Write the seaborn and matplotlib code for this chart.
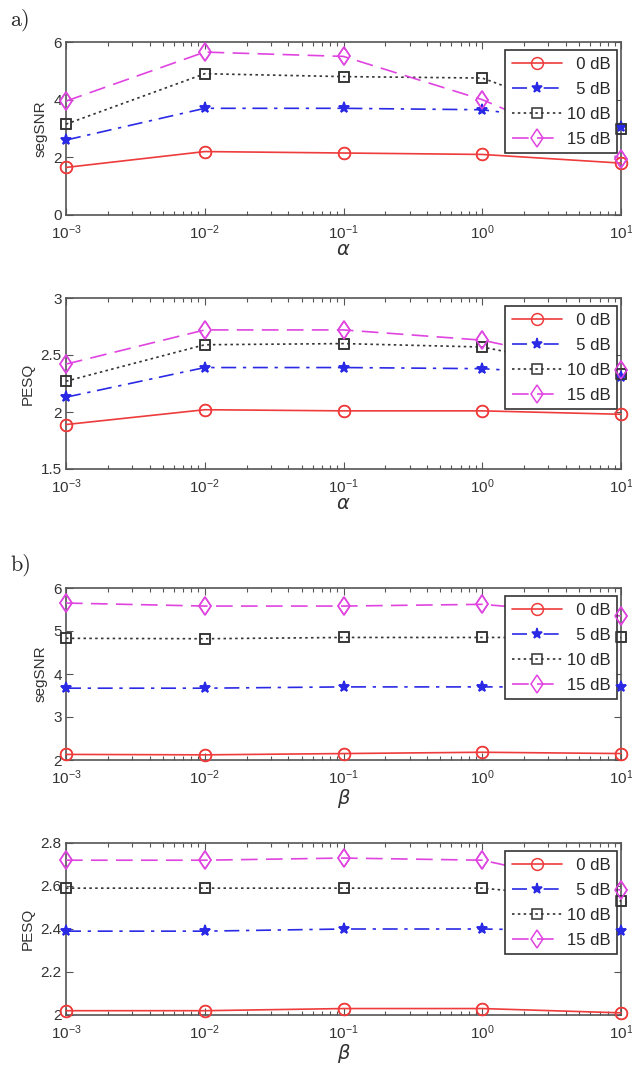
import numpy as np
import pandas as pd
import seaborn as sns
import matplotlib.pyplot as plt
from matplotlib.ticker import LogLocator, NullFormatter

sns.set_style("ticks")
plt.rcParams['font.family'] = ['Liberation Sans', 'DejaVu Sans']

# parameter values (alpha / beta)
params = [1e-3, 1e-2, 1e-1, 1e0, 1e1]
snr_labels = ['  0 dB', '  5 dB', '10 dB', '15 dB']

# a) varying alpha
seg_alpha_0 = [1.65, 2.20, 2.15, 2.10, 1.80]
seg_alpha_5 = [2.60, 3.70, 3.70, 3.65, 3.05]
seg_alpha_10 = [3.15, 4.90, 4.80, 4.75, 3.00]
seg_alpha_15 = [3.95, 5.65, 5.50, 4.00, 1.95]

pesq_alpha_0 = [1.89, 2.02, 2.01, 2.01, 1.98]
pesq_alpha_5 = [2.13, 2.39, 2.39, 2.38, 2.31]
pesq_alpha_10 = [2.27, 2.59, 2.60, 2.57, 2.33]
pesq_alpha_15 = [2.42, 2.72, 2.72, 2.63, 2.37]

# b) varying beta
seg_beta_0 = [2.13, 2.12, 2.15, 2.18, 2.15]
seg_beta_5 = [3.67, 3.67, 3.70, 3.70, 3.70]
seg_beta_10 = [4.83, 4.82, 4.85, 4.85, 4.85]
seg_beta_15 = [5.65, 5.58, 5.58, 5.62, 5.35]

pesq_beta_0 = [2.02, 2.02, 2.03, 2.03, 2.01]
pesq_beta_5 = [2.39, 2.39, 2.40, 2.40, 2.39]
pesq_beta_10 = [2.59, 2.59, 2.59, 2.59, 2.53]
pesq_beta_15 = [2.72, 2.72, 2.73, 2.72, 2.58]

red, blue, black, magenta = '#ee3b3b', '#2a2ae6', '#333333', '#e044e0'
styles = [
    dict(color=red, linestyle='-', marker='o', markersize=8.5, mfc='none', mec=red),
    dict(color=blue, linestyle=(0, (9, 4, 2, 4)), marker='*', markersize=8, mfc=blue, mec=blue),
    dict(color=black, linestyle=(0, (1.5, 2)), marker='s', markersize=7.5, mfc='none', mec=black),
    dict(color=magenta, linestyle=(0, (10, 5)), marker='d', markersize=9.5, mfc='none', mec=magenta),
]

panels = [
    ([seg_alpha_0, seg_alpha_5, seg_alpha_10, seg_alpha_15], 'segSNR', r'$\alpha$', (0, 6), [0, 2, 4, 6], ['0', '2', '4', '6']),
    ([pesq_alpha_0, pesq_alpha_5, pesq_alpha_10, pesq_alpha_15], 'PESQ', r'$\alpha$', (1.5, 3), [1.5, 2, 2.5, 3], ['1.5', '2', '2.5', '3']),
    ([seg_beta_0, seg_beta_5, seg_beta_10, seg_beta_15], 'segSNR', r'$\beta$', (2, 6), [2, 3, 4, 5, 6], ['2', '3', '4', '5', '6']),
    ([pesq_beta_0, pesq_beta_5, pesq_beta_10, pesq_beta_15], 'PESQ', r'$\beta$', (2, 2.8), [2, 2.2, 2.4, 2.6, 2.8], ['2', '2.2', '2.4', '2.6', '2.8']),
]

W, H = 632, 1071
boxes = [(42, 215), (298, 469), (588, 760), (843, 1015)]
left, right = 66, 621

fig = plt.figure(figsize=(W / 100, H / 100), dpi=100)

for (series, ylab, xlab, ylim, yt, ytl), (top, bot) in zip(panels, boxes):
    ax = fig.add_axes([left / W, 1 - bot / H, (right - left) / W, (bot - top) / H])
    for vals, lab, st in zip(series, snr_labels, styles):
        df = pd.DataFrame({'x': params, 'y': vals})
        sns.lineplot(data=df, x='x', y='y', ax=ax, label=lab, linewidth=1.2,
                     markeredgewidth=1.1, clip_on=False, zorder=3, **st)
        # markers again on top so the end points sit over the legend frame
        mk = dict(st, linestyle='none')
        sns.lineplot(data=df, x='x', y='y', ax=ax, legend=False,
                     markeredgewidth=1.1, clip_on=False, zorder=6, **mk)
    ax.set_xscale('log')
    ax.set_xlim(1e-3, 10)
    ax.set_ylim(*ylim)
    ax.set_yticks(yt)
    ax.set_yticklabels(ytl)
    ax.xaxis.set_major_locator(LogLocator(base=10, numticks=10))
    ax.xaxis.set_minor_locator(LogLocator(base=10, subs=np.arange(2, 10), numticks=10))
    ax.xaxis.set_minor_formatter(NullFormatter())
    ax.tick_params(which='both', direction='in', top=True, right=True,
                   colors='#555555', labelcolor='#333333', labelsize=11)
    ax.tick_params(axis='x', pad=6)
    ax.tick_params(axis='y', pad=3)
    ax.tick_params(which='major', length=5, width=0.8)
    ax.tick_params(which='minor', length=3, width=0.8)
    for sp in ax.spines.values():
        sp.set_color('#555555')
        sp.set_linewidth(1.2)
    ax.set_ylabel(ylab, fontsize=11, color='#333333', labelpad=4)
    ax.set_xlabel(xlab, fontsize=14, color='#333333', labelpad=0)
    h = bot - top
    leg = ax.legend(loc='upper right', bbox_to_anchor=(1 - 4 / (right - left), 1 - 8 / h),
                    borderaxespad=0, fontsize=12, frameon=True, fancybox=False,
                    framealpha=1, edgecolor='#333333', handlelength=3.0,
                    handletextpad=0.3, labelspacing=0.6, borderpad=0.4)
    leg.get_frame().set_linewidth(1.2)
    leg.set_zorder(5)

fig.text(10 / W, 1 - 20 / H, 'a)', fontsize=16, family='cmr10', va='center')
fig.text(10 / W, 1 - 565 / H, 'b)', fontsize=16, family='cmr10', va='center')

fig.savefig('out.png', dpi=100)
